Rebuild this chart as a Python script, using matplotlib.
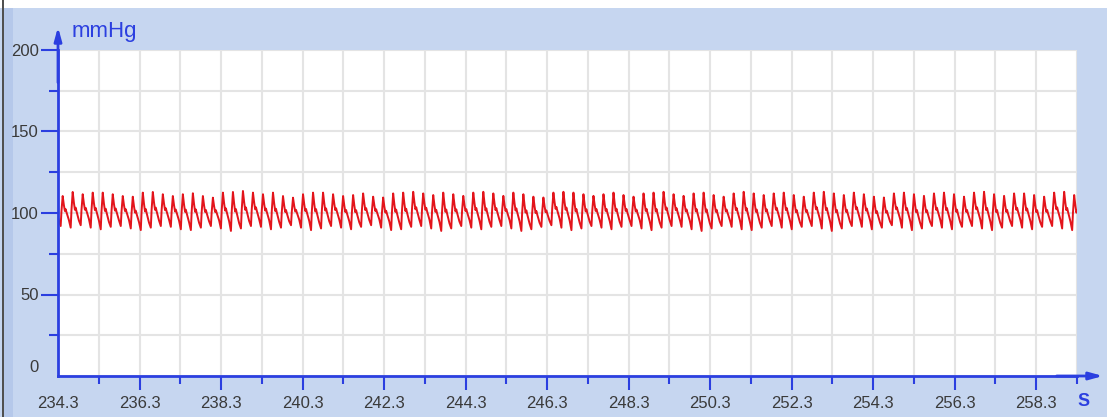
import numpy as np
import matplotlib
matplotlib.use("Agg")
import matplotlib.pyplot as plt
from matplotlib.patches import Rectangle
from matplotlib.ticker import FixedLocator
import matplotlib.transforms as mtransforms

plt.rcParams['font.family'] = ['Liberation Sans', 'DejaVu Sans']

# ---------------- data ----------------
x_range = (234.3, 259.3)
y_range = (0, 200)
x_major_ticks = [234.3, 236.3, 238.3, 240.3, 242.3, 244.3, 246.3, 248.3,
                 250.3, 252.3, 254.3, 256.3, 258.3]
x_tick_labels = ["234.3", "236.3", "238.3", "240.3", "242.3", "244.3", "246.3",
                 "248.3", "250.3", "252.3", "254.3", "256.3", "258.3"]
y_major_ticks = [0, 50, 100, 150, 200]
y_tick_labels = ["0", "50", "100", "150", "200"]
y_unit = "mmHg"
x_unit = "S"

first_beat_onset = 234.12      # s, onset (foot) of first (partial) beat
beat_period = 0.2457           # s

# systolic peaks per beat (mmHg)
peaks = [111.0,
         110.4, 112.9, 111.5, 112.5, 112.5, 111.5, 110.4, 110.0, 112.5, 112.9, 111.5, 110.4, 111.5, 112.1,
         110.4, 109.4, 112.5, 112.9, 113.5, 112.5, 111.5, 112.5, 110.4, 109.4, 111.5, 112.5, 112.5, 111.5, 110.4,
         111.0, 112.0, 110.0, 109.5, 112.0, 112.5, 113.0, 112.0, 111.0, 112.5, 111.5, 110.5, 112.5, 113.0, 112.0,
         110.5, 112.5, 111.5, 110.0, 109.5, 112.5, 113.0, 112.5, 111.5, 110.5, 111.5, 112.5, 111.0, 110.0, 112.0,
         112.5, 113.0, 111.5, 110.5, 112.0, 112.5, 111.0, 110.0, 112.0, 113.0, 112.0, 111.0, 112.0, 112.5, 111.0,
         110.0, 112.5, 113.0, 112.0, 111.0, 112.5, 111.5, 110.0, 109.5, 112.0, 112.5, 111.5, 110.5, 112.0, 112.5,
         111.5, 110.0, 112.5, 113.0, 111.5, 110.5, 112.0, 112.0, 111.0, 110.0, 112.5, 113.0, 111.0, 112.0, 113.0]

# diastolic troughs per beat (mmHg)
troughs = [91.5,
           92.0, 91.0, 92.5, 91.0, 90.0, 91.5, 92.0, 90.5, 89.5, 91.0, 92.0, 91.5, 90.0, 89.5,
           91.0, 92.0, 90.5, 89.0, 90.5, 92.0, 91.5, 90.0, 91.0, 92.5, 91.0, 89.5, 90.5, 92.0, 91.0,
           90.0, 91.5, 92.5, 91.0, 89.5, 90.0, 91.5, 92.0, 90.5, 89.0, 90.5, 92.0, 91.0, 90.0, 91.5,
           92.0, 90.5, 89.0, 90.0, 91.5, 92.5, 91.0, 89.5, 90.5, 92.0, 91.0, 90.0, 91.5, 92.0, 90.5,
           89.5, 91.0, 92.0, 91.5, 90.0, 89.0, 90.5, 92.0, 91.5, 90.0, 89.5, 91.0, 92.0, 91.0, 90.0,
           91.5, 92.0, 90.5, 89.0, 90.5, 92.0, 91.5, 90.0, 91.0, 92.5, 91.0, 89.5, 90.5, 92.0, 91.0,
           90.0, 91.5, 92.0, 90.5, 89.5, 91.0, 92.0, 91.0, 90.0, 91.5, 92.0, 90.5, 89.5, 91.0, 92.0]

# shape of one beat: phase within the beat and fraction of pulse pressure
beat_phase = [0.00, 0.08, 0.20, 0.32, 0.42, 0.50, 0.58, 0.82]
beat_level = [0.00, 0.50, 1.00, 0.70, 0.50, 0.56, 0.46, 0.20]

# ---------------- build the trace ----------------
t_list, p_list = [], []
for i, (pk, tr) in enumerate(zip(peaks, troughs)):
    onset = first_beat_onset + i * beat_period
    for ph, lv in zip(beat_phase, beat_level):
        t_list.append(onset + ph * beat_period)
        p_list.append(tr + lv * (pk - tr))
t_arr = np.array(t_list)
p_arr = np.array(p_list)

# ---------------- figure ----------------
W, H = 1107, 417
fig = plt.figure(figsize=(W / 100, H / 100), dpi=100)
fig.patch.set_facecolor('white')

bg_blue = '#c6d6f0'
axis_blue = '#2b3fe0'
fig.add_artist(Rectangle((0, 0), 1, (H - 8) / H, transform=fig.transFigure,
                         facecolor=bg_blue, edgecolor='none', zorder=0))
fig.add_artist(Rectangle((4 / W, 0), 9 / W, (H - 8) / H, transform=fig.transFigure,
                         facecolor='#b5c8ea', edgecolor='none', zorder=0))
fig.add_artist(Rectangle((2 / W, 0), 2 / W, 1, transform=fig.transFigure,
                         facecolor='#505050', edgecolor='none', zorder=0))

ax = fig.add_axes([58 / W, 41 / H, 1019 / W, 326 / H])
ax.set_facecolor('white')
ax.set_xlim(*x_range)
ax.set_ylim(*y_range)

ax.plot(t_arr, p_arr, color='#e3141b', lw=1.4, zorder=3, solid_joinstyle='round')

# ticks
ax.xaxis.set_major_locator(FixedLocator(x_major_ticks))
ax.set_xticklabels(x_tick_labels)
ax.xaxis.set_minor_locator(FixedLocator([v + 1.0 for v in x_major_ticks]))
ax.yaxis.set_major_locator(FixedLocator(y_major_ticks))
ax.set_yticklabels(y_tick_labels)
ax.yaxis.set_minor_locator(FixedLocator([v + 25 for v in y_major_ticks[:-1]]))

ax.grid(which='both', color='#e4e4e4', lw=1.5)
ax.set_axisbelow(True)

for s in ['top', 'right']:
    ax.spines[s].set_visible(False)
for s in ['left', 'bottom']:
    ax.spines[s].set_color(axis_blue)
    ax.spines[s].set_linewidth(2)
    ax.spines[s].set_zorder(4)

ax.tick_params(axis='y', which='major', length=12.5, width=1.5, color=axis_blue,
               labelsize=12, labelcolor='#3a3a3a', pad=1.5)
ax.tick_params(axis='y', which='minor', length=6.5, width=1.5, color=axis_blue)
ax.tick_params(axis='x', which='major', length=10, width=1.5, color=axis_blue,
               labelsize=12, labelcolor='#3a3a3a', pad=4.5)
ax.tick_params(axis='x', which='minor', length=5.8, width=1.5, color=axis_blue)

# no tick mark at the origin, "0" label lifted above x-axis
xt0 = ax.xaxis.get_major_ticks()[0]
xt0.tick1line.set_visible(False)
yt0 = ax.yaxis.get_major_ticks()[0]
yt0.tick1line.set_visible(False)
yt0.label1.set_transform(yt0.label1.get_transform() +
                         mtransforms.ScaledTranslation(0, 10 / 100, fig.dpi_scale_trans))

# axis arrows
ax.annotate('', xy=(0, (376 - 27) / 326), xytext=(0, 0.9), xycoords='axes fraction',
            arrowprops=dict(arrowstyle='-|>,head_length=0.8,head_width=0.22',
                            color=axis_blue, lw=2, shrinkA=0, shrinkB=0),
            annotation_clip=False, zorder=5)
ax.annotate('', xy=((1103 - 58) / 1019, 0), xytext=(0.98, 0), xycoords='axes fraction',
            arrowprops=dict(arrowstyle='-|>,head_length=0.8,head_width=0.22',
                            color=axis_blue, lw=2, shrinkA=0, shrinkB=0),
            annotation_clip=False, zorder=5)

fig.text(72 / W, (H - 31) / H, y_unit, color=axis_blue, fontsize=16,
         ha='left', va='center')
fig.text(1084 / W, (H - 402) / H, x_unit, color=axis_blue, fontsize=13,
         fontweight='bold', ha='center', va='center')

fig.savefig('out.png', dpi=100, facecolor=fig.get_facecolor())
